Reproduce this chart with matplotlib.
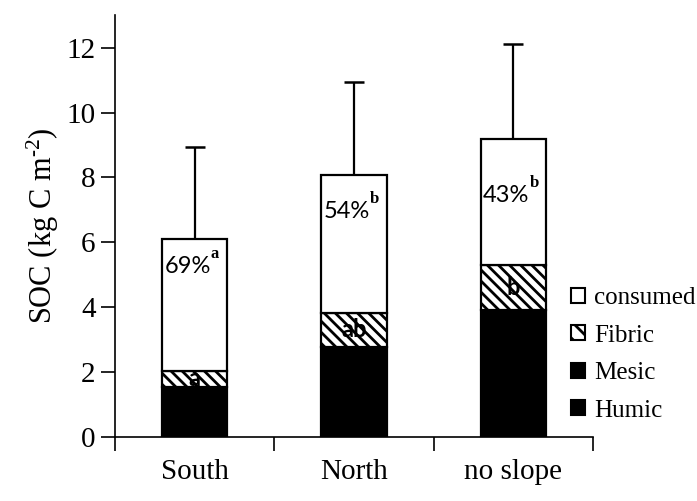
import numpy as np
import matplotlib
matplotlib.use("Agg")
from matplotlib import pyplot as plt
from matplotlib.patches import Patch

# SOC pools per site (kg C m-2)
sites = ["South", "North", "no slope"]
humic = [1.55, 2.78, 3.91]
mesic = [0.0, 0.0, 0.0]
fibric = [0.49, 1.04, 1.38]
total = [6.11, 8.06, 9.19]
total_sd = [2.82, 2.89, 2.92]

pct_labels = ["69%", "54%", "43%"]
pct_letters = ["a", "b", "b"]
fibric_letters = ["a", "ab", "b"]

plt.rcParams["font.family"] = ["Liberation Serif", "DejaVu Serif"]
plt.rcParams["mathtext.fontset"] = "custom"
plt.rcParams["mathtext.rm"] = "Liberation Serif"
plt.rcParams["mathtext.it"] = "Liberation Serif:italic"
plt.rcParams["hatch.linewidth"] = 2.0

humic = np.array(humic)
mesic = np.array(mesic)
fibric = np.array(fibric)
total = np.array(total)
consumed = total - humic - mesic - fibric
x = np.arange(len(sites))
w = 0.41

fig = plt.figure(figsize=(6.97, 5.01), dpi=100)
ax = fig.add_axes([0.165, 0.1277, 0.686, 0.842])

lw = 1.6
ax.bar(x, humic, w, color="black", edgecolor="black", linewidth=lw, zorder=3)
ax.bar(x, mesic, w, bottom=humic, color="black", edgecolor="black", linewidth=lw, zorder=3)
ax.bar(x, fibric, w, bottom=humic + mesic, color="white", edgecolor="black",
	hatch="\\\\\\", linewidth=lw, zorder=3)
ax.bar(x, consumed, w, bottom=humic + mesic + fibric, color="white",
	edgecolor="black", linewidth=lw, zorder=3)
ax.errorbar(x, total, yerr=[np.zeros(len(x)), total_sd], fmt="none",
	ecolor="black", elinewidth=1.6, capsize=7, capthick=1.8, zorder=2)

# percent consumed, with significance letters
pct_y = [5.25, 6.95, 7.45]
for i in range(len(x)):
	ax.text(x[i] + 0.1, pct_y[i], pct_labels[i], ha="right", va="center",
		family=["Lato", "DejaVu Sans"], fontsize=17, zorder=5)
	ax.text(x[i] + 0.1, pct_y[i] + 0.38, pct_letters[i], ha="left", va="center",
		fontsize=12, fontweight="bold", zorder=5)
	ax.text(x[i], humic[i] + mesic[i] + fibric[i] / 2, fibric_letters[i],
		ha="center", va="center", family=["Lato", "DejaVu Sans"],
		fontsize=17, fontweight="bold", zorder=5)

ax.set_xlim(-0.5, 2.5)
ax.set_ylim(0, 13)
ax.set_yticks(np.arange(0, 13, 2))
ax.set_xticks([-0.5, 0.5, 1.5, 2.5])
ax.set_xticklabels([])
ax.set_xticks(x, minor=True)
ax.set_xticklabels(sites, minor=True)
ax.tick_params(axis="x", which="minor", length=0, pad=16, labelsize=21)
ax.tick_params(axis="x", which="major", direction="out", length=10, width=1.2)
ax.tick_params(axis="y", direction="out", length=10, width=1.2, labelsize=21, pad=4)
for s in ["top", "right"]:
	ax.spines[s].set_visible(False)
for s in ["left", "bottom"]:
	ax.spines[s].set_linewidth(1.2)
ax.set_ylabel(r"SOC (kg C m$^{\text{-2}}$)", fontsize=22, labelpad=4)

handles = [
	Patch(facecolor="white", edgecolor="black", linewidth=1.5),
	Patch(facecolor="white", edgecolor="black", hatch="\\\\", linewidth=1.5),
	Patch(facecolor="black", edgecolor="black", linewidth=1.5),
	Patch(facecolor="black", edgecolor="black", linewidth=1.5),
]
fig.legend(handles, ["consumed", "Fibric", "Mesic", "Humic"], loc="upper left",
	bbox_to_anchor=(0.802, 0.452), frameon=False, fontsize=18, borderpad=0,
	handlelength=0.55, handleheight=0.55, handletextpad=0.35, labelspacing=0.62)

plt.savefig("out.png", dpi=100)
